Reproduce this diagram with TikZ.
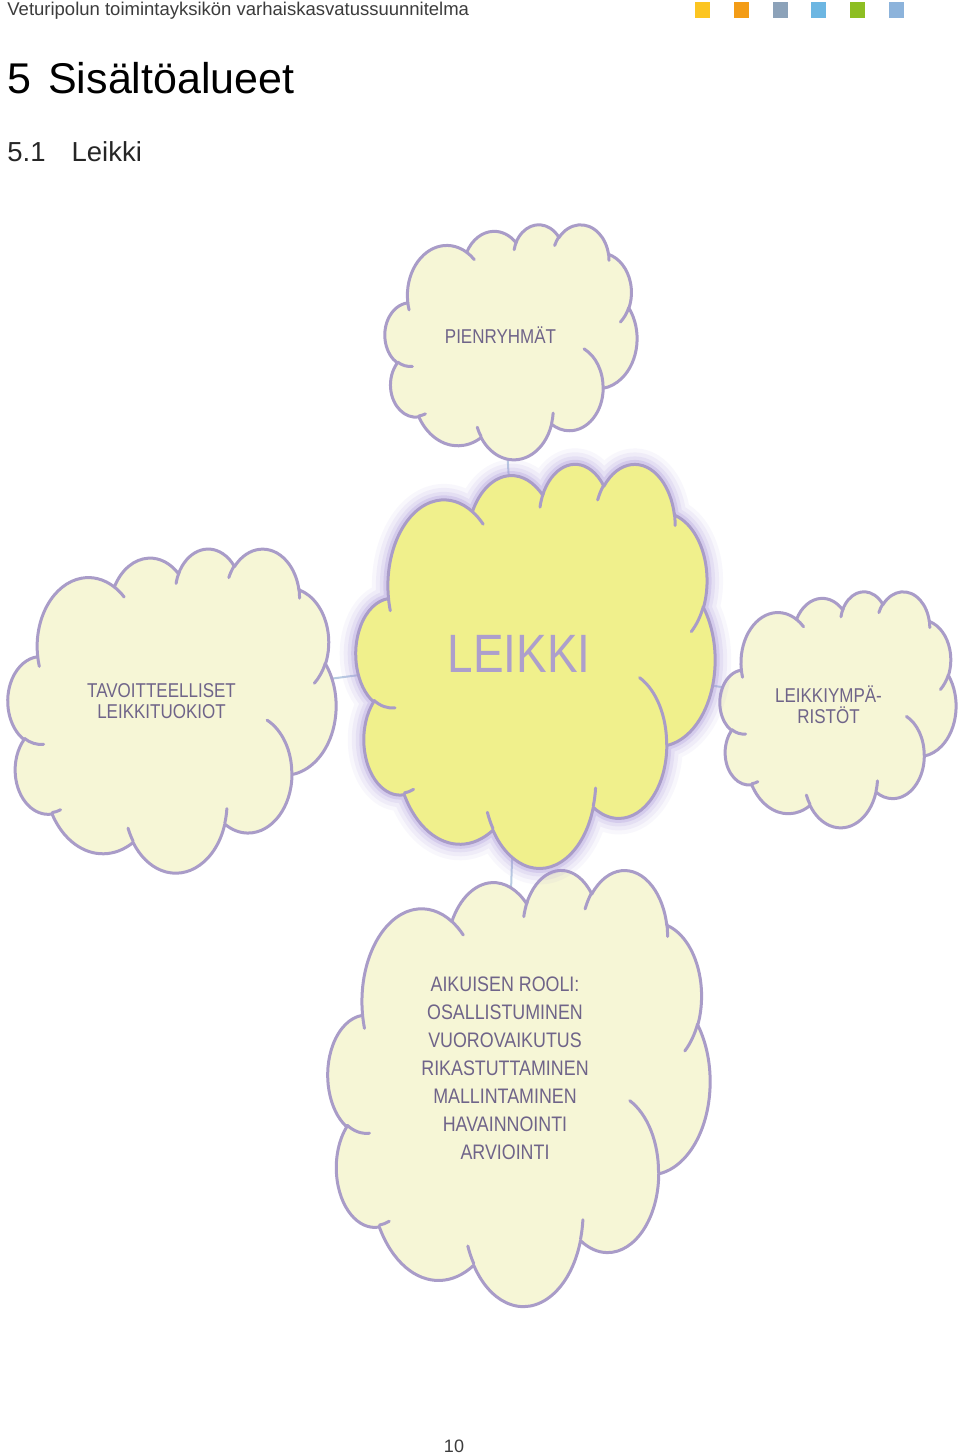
\documentclass[tikz,border=0pt]{standalone}
\usepackage{fontspec}
\setmainfont{Liberation Sans}
\newfontfamily\cloudfont{Liberation Sans}[FakeStretch=0.85]
\usetikzlibrary{backgrounds,positioning}

\definecolor{cloudline}{HTML}{A99CC8}
\definecolor{cloudfill}{HTML}{F6F6D6}
\definecolor{leikkifill}{HTML}{F0F08C}
\definecolor{glowc}{HTML}{A893D8}
\definecolor{txtc}{HTML}{6F6489}
\definecolor{leikkitxt}{HTML}{AD9FCC}
\definecolor{linkc}{HTML}{B9CCE2}
\definecolor{headc}{HTML}{3C3C3C}
\definecolor{sqyellow}{HTML}{FCC521}
\definecolor{sqorange}{HTML}{F39C16}
\definecolor{sqgrey}{HTML}{8CA2B9}
\definecolor{sqblue}{HTML}{6CB6E2}
\definecolor{sqgreen}{HTML}{8DBE22}
\definecolor{sqsteel}{HTML}{8CB3DB}

\tikzset{
  cloud edge/.style={draw=cloudline,line width=1.5pt,line join=round,line cap=round},
  pale cloud/.style={cloud edge,fill=cloudfill},
  glow/.style={draw=glowc,line join=round},
  cloud label/.style={font=\cloudfont\fontsize{10}{10.5}\selectfont,text=txtc,align=center},
  linkline/.style={draw=linkc,line width=1pt}
}

% cloud outline in a 43.2 x 43.2 box (y down)
\newcommand\cloudoutline[1]{%
  \draw[#1] (3.900,14.370)
  \foreach \rx/\ry/\st/\sw [evaluate={\st as \ts using atan2(\rx*sin(\st),\ry*cos(\st))},
    evaluate={\st as \te using \ts+mod(atan2(\rx*sin(\st+\sw),\ry*cos(\st+\sw))-\ts+720,360)}]
  in {6.753/9.190/-190.4875/123.7805, 5.333/7.267/-144.1024/89.9452,
      4.365/5.945/-145.8079/99.7230, 4.857/6.595/-130.9861/117.2417,
      5.333/7.273/-78.7089/109.0269, 6.775/9.220/-46.2673/130.2690,
      5.785/7.867/0.6250/114.0333, 6.752/9.215/22.4516/115.1726,
      7.720/10.543/66.2426/75.7110, 4.360/5.918/-274.9421/146.7356,
      4.345/5.945/-246.8285/152.5189}
  {arc[start angle=\ts,end angle=\te,x radius=\rx,y radius=\ry]} -- cycle;}

% the inner hooks
\newcommand\cloudhooks[1]{%
  \draw[#1]
  \foreach \px/\py/\rx/\ry/\st/\sw [evaluate={\st as \ts using atan2(\rx*sin(\st),\ry*cos(\st))},
    evaluate={\st as \te using \ts+mod(atan2(\rx*sin(\st+\sw),\ry*cos(\st+\sw))-\ts+720,360)}]
  in {4.693/26.177/4.345/5.945/86.7420/26.4295, 6.928/34.899/4.360/5.918/73.6105/11.4475,
      16.478/39.090/6.752/9.215/137.6242/14.0811, 28.827/34.751/6.752/9.215/6.4533/15.9984,
      34.129/22.954/5.785/7.867/-70.2924/70.9174, 41.798/15.354/5.333/7.273/30.3180/27.7515,
      38.324/5.426/4.857/6.595/-13.7443/14.8589, 29.078/3.952/4.857/6.595/-149.1815/18.1954,
      22.141/4.720/4.365/5.945/-163.4943/19.0087, 14.000/5.192/6.753/9.190/-66.7070/12.3194,
      4.127/15.789/6.753/9.190/157.6544/11.8582}
  {(\px,\py) arc[start angle=\ts,end angle=\te,x radius=\rx,y radius=\ry]};}

\begin{document}
\begin{tikzpicture}[x=0.5pt,y=-0.5pt]
\useasboundingbox (0,0) rectangle (960,1453);

% page head
\node[anchor=base west,inner sep=0,text=headc,font=\fontsize{9.25}{11}\selectfont] (yksikko) at (7,15) {Veturipolun toimintayksikön varhaiskasvatussuunnitelma};
\fill[sqyellow] (695,2) rectangle +(15,16);
\fill[sqorange] (734,2) rectangle +(15,16);
\fill[sqgrey] (773,2) rectangle +(15,16);
\fill[sqblue] (811,2) rectangle +(15,16);
\fill[sqgreen] (850,2) rectangle +(15,16);
\fill[sqsteel] (889,2) rectangle +(15,16);
\node[anchor=base west,inner sep=0,font=\fontsize{21.5}{24}\selectfont] (luku) at (7,93) {5\hspace{8.5pt}Sisältöalueet};
\node[anchor=base west,inner sep=0,text=black!85,font=\fontsize{13.75}{16}\selectfont] (alaluku) at (7,161) {5.1\hspace{13pt}Leikki};

% top
\begin{scope}[shift={(385,224)},xscale=252/43.2,yscale=235/43.2]
\cloudoutline{pale cloud}
\cloudhooks{cloud edge}
\end{scope}
% left
\begin{scope}[shift={(8,548)},xscale=328/43.2,yscale=324/43.2]
\cloudoutline{pale cloud}
\cloudhooks{cloud edge}
\end{scope}
% right
\begin{scope}[shift={(720,591)},xscale=236/43.2,yscale=236/43.2]
\cloudoutline{pale cloud}
\cloudhooks{cloud edge}
\end{scope}
% bottom
\begin{scope}[shift={(328,869)},xscale=382/43.2,yscale=436/43.2]
\cloudoutline{pale cloud}
\cloudhooks{cloud edge}
\end{scope}
% centre, with glow
\begin{scope}[shift={(356,463)},xscale=359/43.2,yscale=404/43.2]
\cloudoutline{glow,line width=16pt,opacity=.07}
\cloudoutline{glow,line width=12pt,opacity=.1}
\cloudoutline{glow,line width=8pt,opacity=.14}
\cloudoutline{glow,line width=4.5pt,opacity=.25}
\cloudoutline{cloud edge,fill=leikkifill}
\cloudhooks{cloud edge}
\end{scope}

\node[cloud label] (pienryhmat) at (500.5,335) {PIENRYHMÄT};
\node[cloud label] (tavoitteet) at (161.5,701) {TAVOITTEELLISET\\LEIKKITUOKIOT};
\node[cloud label] (ymparistot) at (828.5,704.5) {LEIKKIYMPÄ-\\RISTÖT};
\node[cloud label,font=\cloudfont\fontsize{10.5}{14}\selectfont] (aikuinen) at (505,1068.5)
  {AIKUISEN ROOLI:\\OSALLISTUMINEN\\VUOROVAIKUTUS\\RIKASTUTTAMINEN\\MALLINTAMINEN\\HAVAINNOINTI\\ARVIOINTI};
\node[cloud label,text=leikkitxt,font=\cloudfont\fontsize{27}{29}\selectfont] (leikki) at (519,654) {LEIKKI};

\node[anchor=base,inner sep=0,text=headc,font=\fontsize{9}{11}\selectfont] (sivu) at (454,1452) {10};

\begin{scope}[on background layer]
\fill[white] (0,0) rectangle (960,1453);
\draw[linkline] (leikki) -- (pienryhmat);
\draw[linkline] (leikki) -- (tavoitteet);
\draw[linkline] (leikki) -- (ymparistot);
\draw[linkline] (leikki) -- (aikuinen);
\end{scope}
\end{tikzpicture}
\end{document}
